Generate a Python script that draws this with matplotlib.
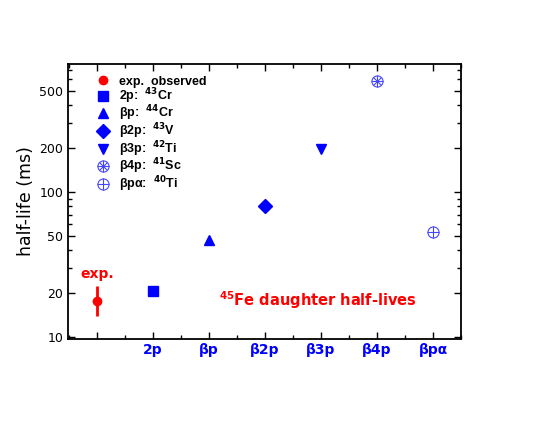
import matplotlib
matplotlib.use("Agg")
import matplotlib.pyplot as plt
from matplotlib.ticker import FixedLocator, FixedFormatter, NullFormatter, LogLocator

plt.rcParams["font.family"] = ["DejaVu Sans"]
plt.rcParams["mathtext.default"] = "bf"

# data
channels = ["exp.", "2p", "βp", "β2p", "β3p", "β4p", "βpα"]
exp_val = 17.7
exp_lo = 14.0
exp_hi = 22.5
daughter_vals = [20.8, 46.7, 80.0, 198.0, 583.0, 53.0]
legend_labels = [
    "exp.  observed",
    "2p:  $^{43}$Cr",
    "βp:  $^{44}$Cr",
    "β2p:  $^{43}$V",
    "β3p:  $^{42}$Ti",
    "β4p:  $^{41}$Sc",
    "βpα:  $^{40}$Ti",
]

BLUE = "#0000ff"
LBLUE = "#4646ff"
RED = "#ff0000"

fig = plt.figure(figsize=(5.5, 4.25), dpi=100)
ax = fig.add_axes([68 / 550, 1 - 339 / 425, (461 - 68) / 550, (339 - 64) / 425])

handles = []
ax.errorbar([0], [exp_val], yerr=[[exp_val - exp_lo], [exp_hi - exp_val]],
            fmt="o", color=RED, ms=6, elinewidth=2, capsize=0)
handles.append(ax.plot([], [], "o", color=RED, ms=6)[0])
handles.append(ax.plot([1], [daughter_vals[0]], "s", color=BLUE, ms=7)[0])
handles.append(ax.plot([2], [daughter_vals[1]], "^", color=BLUE, ms=7)[0])
handles.append(ax.plot([3], [daughter_vals[2]], "D", color=BLUE, ms=7)[0])
handles.append(ax.plot([4], [daughter_vals[3]], "v", color=BLUE, ms=7)[0])
a = ax.plot([5], [daughter_vals[4]], "o", mfc="none", mec=LBLUE, ms=8, mew=0.8)[0]
b = ax.plot([5], [daughter_vals[4]], "+", color=LBLUE, ms=8, mew=0.8)[0]
c = ax.plot([5], [daughter_vals[4]], "x", color=LBLUE, ms=6, mew=0.8)[0]
handles.append((a, b, c))
d = ax.plot([6], [daughter_vals[5]], "o", mfc="none", mec=LBLUE, ms=8, mew=0.8)[0]
e = ax.plot([6], [daughter_vals[5]], "+", color=LBLUE, ms=8, mew=0.8)[0]
handles.append((d, e))

ax.set_yscale("log")
ax.set_ylim(9.7, 765)
ax.set_xlim(-0.52, 6.5)

ax.yaxis.set_major_locator(FixedLocator([10, 20, 50, 100, 200, 500]))
ax.yaxis.set_major_formatter(FixedFormatter(["10", "20", "50", "100", "200", "500"]))
ax.yaxis.set_minor_locator(LogLocator(base=10, subs=range(2, 10)))
ax.yaxis.set_minor_formatter(NullFormatter())

ax.set_xticks(range(7))
ax.set_xticklabels([""] + channels[1:], color=BLUE, fontweight="bold", fontsize=10)
ax.set_xticks([i + 0.5 for i in range(-1, 7)], minor=True)

ax.tick_params(which="both", direction="in", top=True, right=True)
ax.tick_params(which="major", length=5, width=1)
ax.tick_params(which="minor", length=3, width=1)
ax.tick_params(axis="y", labelsize=9)
ax.tick_params(axis="x", pad=3)
for s in ax.spines.values():
    s.set_linewidth(1.3)

ax.set_ylabel("half-life (ms)", fontsize=12.5)
ax.yaxis.set_label_coords(-0.084, 0.5)

ax.text(0, 24.4, "exp.", color=RED, fontweight="bold", fontsize=10, ha="center", va="bottom")
ax.text(2.17, 18.0, "$^{45}$Fe daughter half-lives", color=RED, fontweight="bold",
        fontsize=10.5, ha="left", va="center")

leg = ax.legend(handles, legend_labels, loc="upper left", frameon=False,
                prop={"family": ["Liberation Sans Narrow", "Liberation Sans"],
                      "weight": "bold", "size": 9},
                handlelength=1.0, handletextpad=0.8, labelspacing=-0.15,
                borderaxespad=0.0, bbox_to_anchor=(0.06, 0.975))

fig.savefig("out.png", dpi=100)
